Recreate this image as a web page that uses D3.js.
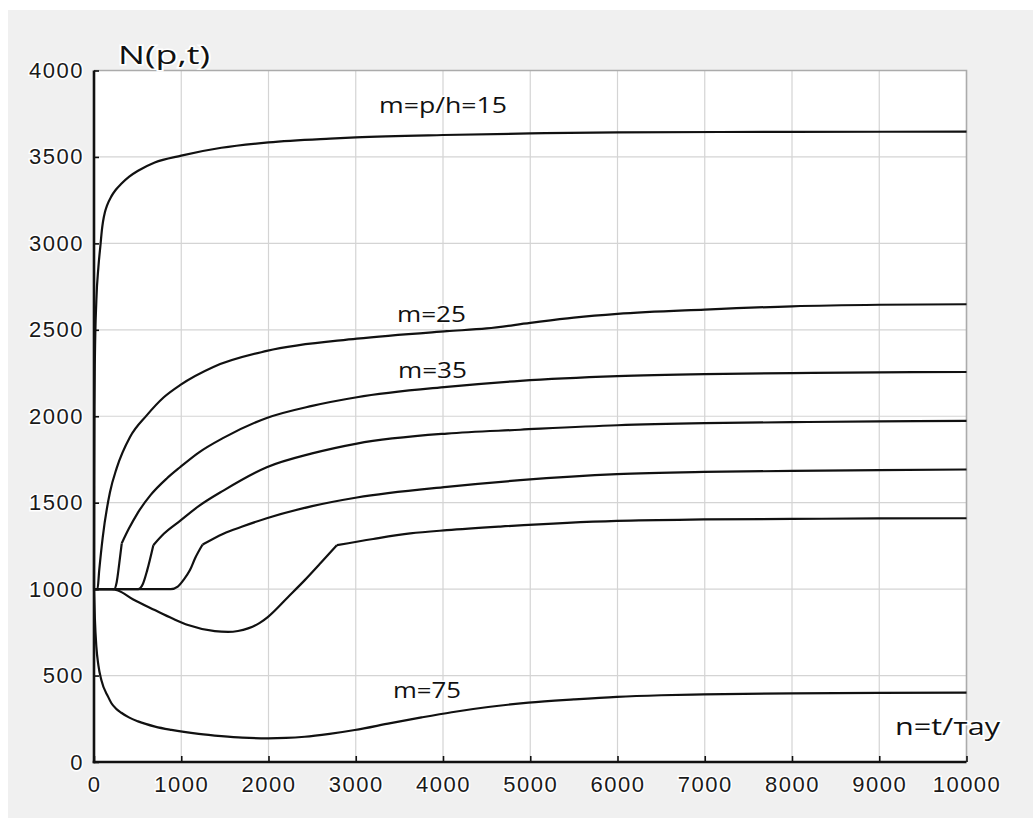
<!DOCTYPE html>
<html>
<head>
<meta charset="utf-8">
<script src="https://cdn.jsdelivr.net/npm/d3@7"></script>
<style>
  body { margin: 0; background: #fff; }
  .tick text { font-family: "Liberation Sans", Arial, sans-serif; font-size: 22px; letter-spacing: 1.5px; fill: #1a1a1a;
               stroke: #fff; stroke-width: 3px; paint-order: stroke; }
  .lbl { font-family: "Open Sans", "Noto Sans", sans-serif; fill: #111; }
</style>
</head>
<body>
<svg id="chart" width="1033" height="818"></svg>
<script>
// tick values
let xTicks = [0, 1000, 2000, 3000, 4000, 5000, 6000, 7000, 8000, 9000, 10000];
let yTicks = [0, 500, 1000, 1500, 2000, 2500, 3000, 3500, 4000];

// curves: [n, N]
let m15 = [[0,1000],[2,1600],[5,2050],[10,2330],[27,2670],[50,2860],[76,3000],[90,3075],[103,3125],[125,3180],[150,3220],[199,3272],[250,3310],[313,3345],[400,3385],[505,3420],[696,3468],[1000,3508],[1460,3553],[2000,3584],[2706,3606],[3000,3613],[4000,3627],[5000,3636],[6000,3642],[8000,3645],[10000,3646]];
let m25 = [[0,1000],[40,1000],[60,1110],[100,1300],[183,1560],[260,1700],[413,1880],[604,2005],[800,2110],[986,2180],[1368,2285],[1980,2378],[3013,2449],[4045,2492],[4500,2508],[5000,2540],[5500,2570],[6000,2592],[7000,2617],[8000,2636],[9000,2645],[10000,2648]];
let m35 = [[0,1000],[230,1000],[260,1040],[290,1150],[318,1265],[400,1350],[500,1440],[650,1545],[834,1640],[986,1705],[1200,1790],[1483,1875],[1980,1990],[2500,2060],[3013,2110],[4045,2170],[4885,2205],[6000,2232],[7000,2244],[8000,2250],[9000,2254],[10000,2256]];
let m45 = [[0,1000],[505,1000],[560,1030],[610,1110],[680,1254],[800,1320],[986,1395],[1200,1480],[1483,1570],[1980,1705],[2500,1785],[3013,1842],[4045,1900],[4885,1922],[6000,1948],[7000,1960],[8000,1966],[9000,1970],[10000,1973]];
let m55 = [[0,1000],[880,1000],[960,1015],[1024,1052],[1100,1110],[1160,1180],[1245,1258],[1483,1321],[1700,1362],[1980,1410],[2500,1480],[3013,1530],[4045,1592],[4885,1630],[5994,1665],[6988,1678],[8001,1684],[8994,1688],[10000,1692]];
let m65 = [[0,1000],[200,1000],[275,992],[450,940],[696,879],[900,830],[1078,792],[1384,757],[1537,753],[1650,758],[1766,773],[1900,805],[1995,840],[2225,955],[2416,1052],[2600,1152],[2783,1254],[3200,1290],[3624,1322],[4045,1341],[4656,1362],[5994,1395],[6988,1403],[8001,1406],[8994,1409],[10000,1410]];
let m75 = [[0,1000],[10,830],[27,667],[50,560],[84,474],[161,378],[200,340],[250,310],[313,285],[400,258],[505,235],[700,205],[887,186],[1200,163],[1460,150],[1700,141],[1995,137],[2200,139],[2416,146],[2700,163],[2989,185],[3400,225],[3754,258],[4100,288],[4518,318],[4980,343],[5500,362],[5994,377],[6500,386],[6988,391],[8001,397],[8994,400],[10000,401]];

let curves = [m15, m25, m35, m45, m55, m65, m75];
// where the curves bend sharply (drawn as two pieces there)
let kinks = [null, null, 318, 680, 1245, 2783, null];

let svg = d3.select("#chart");

let plotL = 94, plotR = 966.5, plotT = 70.5, plotB = 762;

let x = d3.scaleLinear().domain([0, 10000]).range([plotL, plotR]);
let y = d3.scaleLinear().domain([0, 4000]).range([plotB, plotT]);

// backgrounds
svg.append("rect").attr("x", 8).attr("y", 10).attr("width", 1025).attr("height", 808).attr("fill", "#f0f0f0");
svg.append("rect").attr("x", plotL).attr("y", plotT).attr("width", plotR - plotL).attr("height", plotB - plotT).attr("fill", "#fff");

// grid
svg.append("g").selectAll("line").data(xTicks.slice(1, -1)).enter().append("line")
    .attr("x1", d => x(d)).attr("x2", d => x(d)).attr("y1", plotT).attr("y2", plotB)
    .attr("stroke", "#d4d4d4").attr("stroke-width", 1.2);
svg.append("g").selectAll("line").data(yTicks.slice(1, -1)).enter().append("line")
    .attr("y1", d => y(d)).attr("y2", d => y(d)).attr("x1", plotL).attr("x2", plotR)
    .attr("stroke", "#d4d4d4").attr("stroke-width", 1.2);

// box top/right
svg.append("path")
    .attr("d", `M${plotL},${plotT}H${plotR}V${plotB}`)
    .attr("fill", "none").attr("stroke", "#ababab").attr("stroke-width", 1.6);

// curves
let line = d3.line().x(d => x(d[0])).y(d => y(d[1])).curve(d3.curveMonotoneX);

curves.forEach((c, i) => {
    let pieces = [c];
    if (kinks[i] !== null) {
        pieces = [c.filter(p => p[0] <= kinks[i]), c.filter(p => p[0] >= kinks[i])];
    }
    pieces.forEach(p => {
        svg.append("path")
            .attr("d", line(p))
            .attr("fill", "none")
            .attr("stroke", "#111")
            .attr("stroke-width", 2.2)
            .attr("stroke-linejoin", "miter");
    });
});

// axes
let yAxis = svg.append("g").attr("transform", `translate(${plotL},0)`)
    .call(d3.axisLeft(y).tickValues(yTicks).tickFormat(d3.format("d"))
        .tickSizeInner(-5).tickSizeOuter(0).tickPadding(10));
let xAxis = svg.append("g").attr("transform", `translate(0,${plotB})`)
    .call(d3.axisBottom(x).tickValues(xTicks).tickFormat(d3.format("d"))
        .tickSizeInner(-6).tickSizeOuter(0).tickPadding(14));

[xAxis, yAxis].forEach(a => {
    a.select(".domain").attr("stroke", "#111").attr("stroke-width", 2.6);
    a.selectAll(".tick line").attr("stroke", "#111").attr("stroke-width", 1.6);
});
xAxis.select(".domain").attr("d", `M${plotL - 1.3},0H${plotR}`);
yAxis.select(".domain").attr("d", `M0,${plotT}V${plotB + 1.3}`);

// labels
let labels = [
    { text: "N(p,t)", x: 118, y: 64, size: 26, len: 92 },
    { text: "m=p/h=15", x: 379, y: 113, size: 21, len: 128 },
    { text: "m=25", x: 397, y: 322, size: 21, len: 69 },
    { text: "m=35", x: 398, y: 378, size: 21, len: 69 },
    { text: "m=75", x: 393, y: 698, size: 21, len: 68 },
    { text: "n=t/тау", x: 895, y: 735, size: 24, len: 105 }
];

svg.selectAll(".lbl").data(labels).enter().append("text")
    .attr("class", "lbl")
    .attr("x", d => d.x).attr("y", d => d.y)
    .attr("font-size", d => d.size)
    .attr("textLength", d => d.len)
    .attr("lengthAdjust", "spacingAndGlyphs")
    .attr("stroke", "#fff").attr("stroke-width", 3).attr("paint-order", "stroke")
    .text(d => d.text);
</script>
</body>
</html>
